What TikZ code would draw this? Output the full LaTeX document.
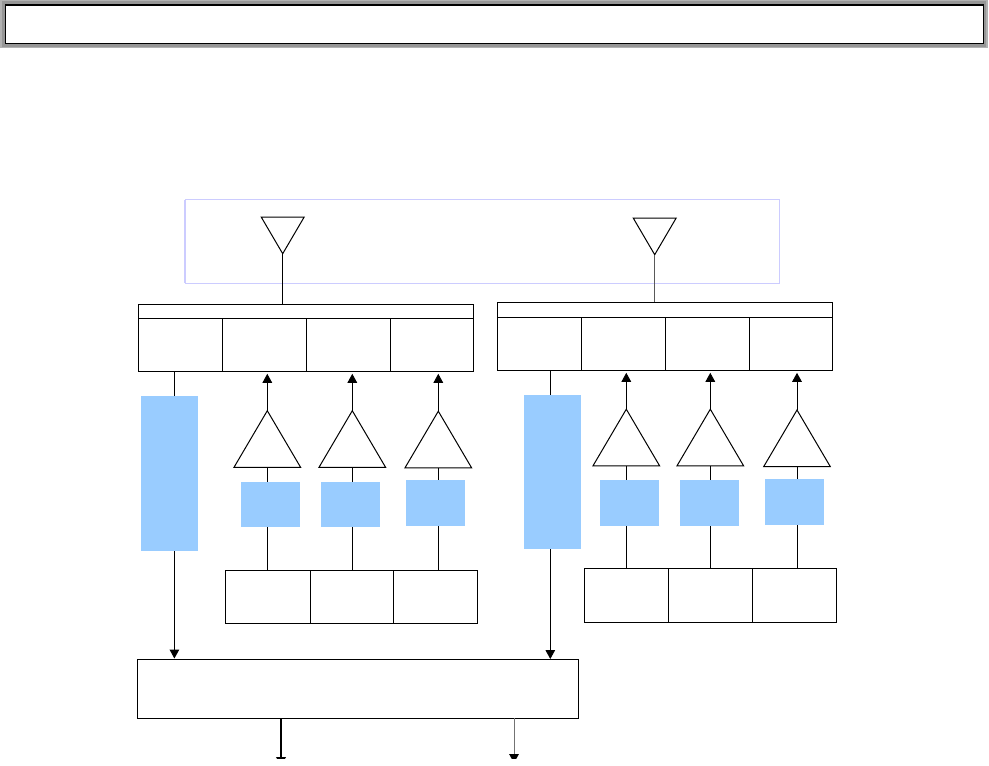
\documentclass[tikz,border=0pt]{standalone}
\usepackage{xcolor}
\usetikzlibrary{shapes.geometric, arrows.meta, positioning}

\definecolor{barblue}{HTML}{99CCFF}
\definecolor{lilac}{HTML}{CCCCFF}
\definecolor{rimlight}{HTML}{B2B2B2}
\definecolor{rimdark}{HTML}{969696}

\begin{document}
\begin{tikzpicture}[
  x=1pt, y=-1pt,
  plate/.style={inner sep=0pt, outer sep=0pt, anchor=north west},
  cell/.style={plate, draw, line width=1pt},
  rxcell/.style={cell, minimum width=84pt, minimum height=53.3pt},
  txcell/.style={cell, minimum width=84pt, minimum height=53pt},
  filter/.style={plate, fill=barblue, minimum width=59pt, minimum height=46pt},
  gainbar/.style={plate, fill=barblue, minimum width=57pt},
  amp/.style={draw, line width=1pt, isosceles triangle, isosceles triangle stretches, shape border rotate=90,
    inner sep=0pt, outer sep=0pt, minimum width=66.7pt, minimum height=56.7pt, anchor=apex},
  aerial/.style={draw, line width=1pt, isosceles triangle, isosceles triangle stretches, shape border rotate=-90,
    inner sep=0pt, outer sep=0pt, minimum width=43pt, minimum height=36.7pt, anchor=apex},
  link/.style={line width=1pt},
  arr/.style={link, -{Triangle[length=9pt, width=9.6pt, black]}}
]
  \useasboundingbox (0,0) rectangle (989,766);

  % title frame
  \node[plate, fill=rimlight, minimum width=988.3pt, minimum height=48.3pt] (rim) at (0,0) {};
  \node[plate, fill=rimdark, minimum width=984pt, minimum height=45.7pt] (rimin) at (2,1) {};
  \node[plate, fill=black, minimum width=979pt, minimum height=40pt] (titleedge) at (5,4) {};
  \node[plate, fill=white, minimum width=977pt, minimum height=37pt] (title) at (6,6) {};

  % antenna frame
  \node[plate, draw=lilac, line width=1pt, minimum width=594pt, minimum height=83.6pt] (air) at (185.3,199.7) {};
  \draw[lilac, line width=2pt] (air.north west) -- (air.south west);

  % left module
  \node[aerial] (antA) at (282.7,253.7) {};
  \node[cell, minimum width=335pt, minimum height=13.7pt] (busA) at (138.5,304.3) {};
  \node[rxcell] (rxA) at (busA.south west) {};
  \node[rxcell] (txA) at (rxA.north east) {};
  \node[rxcell] (txB) at (txA.north east) {};
  \node[rxcell, minimum width=83pt] (txC) at (txB.north east) {};
  \node[amp] (ampA) at (267.3,410.7) {};
  \node[amp] (ampB) at (352.3,410.7) {};
  \node[amp] (ampC) at (438.3,411.2) {};
  \node[txcell, minimum width=85pt] (srcA) at (225.3,570.3) {};
  \node[txcell, minimum width=83pt] (srcB) at (srcA.north east) {};
  \node[txcell] (srcC) at (srcB.north east) {};

  % right module
  \node[aerial] (antB) at (654.7,254.7) {};
  \node[cell, minimum width=335pt, minimum height=15pt] (busB) at (497.3,302.3) {};
  \node[rxcell, minimum height=53pt] (rxB) at (busB.south west) {};
  \node[rxcell, minimum height=53pt] (txD) at (rxB.north east) {};
  \node[rxcell, minimum height=53pt] (txE) at (txD.north east) {};
  \node[rxcell, minimum height=53pt, minimum width=83pt] (txF) at (txE.north east) {};
  \draw[line width=1.6pt] (txE.north west) -- (txE.south west);
  \draw[line width=1.6pt] (txF.north west) -- (txF.south west);
  \node[amp] (ampD) at (626.3,409.2) {};
  \node[amp] (ampE) at (710.3,409.2) {};
  \node[amp] (ampF) at (797,410) {};
  \node[txcell, minimum height=54pt] (srcD) at (584.3,568.3) {};
  \node[txcell, minimum height=54pt] (srcE) at (srcD.north east) {};
  \node[txcell, minimum height=54pt] (srcF) at (srcE.north east) {};

  % combiner
  \node[cell, minimum width=441pt, minimum height=59pt] (merge) at (137.3,659.3) {};
  \coordinate (inA) at (174.4,658.5);
  \coordinate (inB) at (550.3,659);

  % connectors, the blue bars go over them
  \draw[link] (antA.apex) -- (antA.apex |- busA.north);
  \draw[link, black!65] (antB.apex) -- (antB.apex |- busB.north);
  \draw[arr] (inA |- rxA.south) -- (inA);
  \draw[arr] (inB |- rxB.south) -- (inB);
  \foreach \amp/\tx/\src in {ampA/txA/srcA, ampB/txB/srcB, ampC/txC/srcC, ampD/txD/srcD, ampE/txE/srcE, ampF/txF/srcF} {
    \draw[arr, shorten >=2.5pt] (\amp.apex) -- (\amp.apex |- \tx.south);
    \draw[link] (\amp.lower side) -- (\amp.lower side |- \src.north);
  }

  \node[gainbar, minimum height=155pt] (gainA) at (141,396) {};
  \node[gainbar, minimum height=154pt] (gainB) at (524,395) {};
  \node[filter, minimum height=45pt] (filtA) at (241,482) {};
  \node[filter, minimum height=45pt] (filtB) at (321,482) {};
  \node[filter] (filtC) at (406,480) {};
  \node[filter] (filtD) at (600,480) {};
  \node[filter] (filtE) at (680,480) {};
  \node[filter] (filtF) at (765,479) {};

  % outputs, cut off under the combiner
  \coordinate (outA) at (281,766);
  \coordinate (outB) at (514,763);
  \begin{scope}
    \clip (0,700) rectangle (989,758.6);
    \draw[arr, line width=1.6pt] (outA |- merge.south) -- (outA);
    \draw[arr, black!55] (outB |- merge.south) -- (outB);
  \end{scope}
\end{tikzpicture}
\end{document}
